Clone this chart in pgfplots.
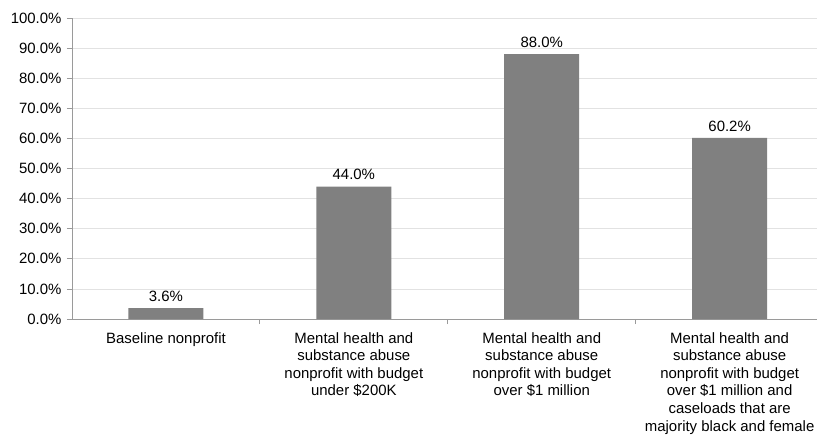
\documentclass[border=0pt]{standalone}
\usepackage{fontspec}
\setmainfont{Liberation Sans}
\usepackage{pgfplots}
\pgfplotsset{compat=1.18}
\definecolor{barfill}{HTML}{808080}
\definecolor{axisgray}{HTML}{9A9A9A}
\definecolor{gridgray}{HTML}{E2E2E2}
\begin{document}
\begin{tikzpicture}
\begin{axis}[
  scale only axis, width=745bp, height=301bp,
  xmin=-0.5, xmax=3.465, ymin=0, ymax=100,
  ybar, bar width=75bp,
  axis x line*=bottom, axis y line*=left,
  axis line style={draw=axisgray, line width=0.8pt},
  /pgf/number format/assume math mode=true,
  ytick={0,10,...,100},
  yticklabel={\pgfmathprintnumber[fixed,fixed zerofill,precision=1]{\tick}\%},
  ymajorgrids, grid style={draw=gridgray, line width=0.8pt},
  ytick style={draw=axisgray, line width=0.8pt},
  tick align=outside, major tick length=5bp,
  xtick={0,1,2,3},
  xticklabels={Baseline nonprofit,
    {Mental health and\\substance abuse\\nonprofit with budget\\under \$200K},
    {Mental health and\\substance abuse\\nonprofit with budget\\over \$1 million},
    {Mental health and\\substance abuse\\nonprofit with budget\\over \$1 million and\\caseloads that are\\majority black and female}},
  xtick style={draw=none},
  extra x ticks={0.5,1.5,2.5},
  extra x tick labels={},
  extra x tick style={xtick style={draw=axisgray, line width=0.8pt}, grid=none},
  xticklabel style={align=center, font=\fontsize{15}{17.6}\selectfont, yshift=-5bp},
  yticklabel style={font=\fontsize{15}{18}\selectfont, text=black, xshift=-2bp},
  nodes near coords={\pgfmathprintnumber[fixed,fixed zerofill,precision=1]{\pgfplotspointmeta}\%},
  nodes near coords style={font=\fontsize{15}{18}\selectfont, text=black, yshift=3bp},
]
\addplot[fill=barfill, draw=none] coordinates {(0,3.6) (1,44.0) (2,88.0) (3,60.2)};
\end{axis}
\pgfresetboundingbox
\path (current axis.south west) ++(-72bp,-117bp) rectangle ++(817bp,436bp);
\end{tikzpicture}
\end{document}
